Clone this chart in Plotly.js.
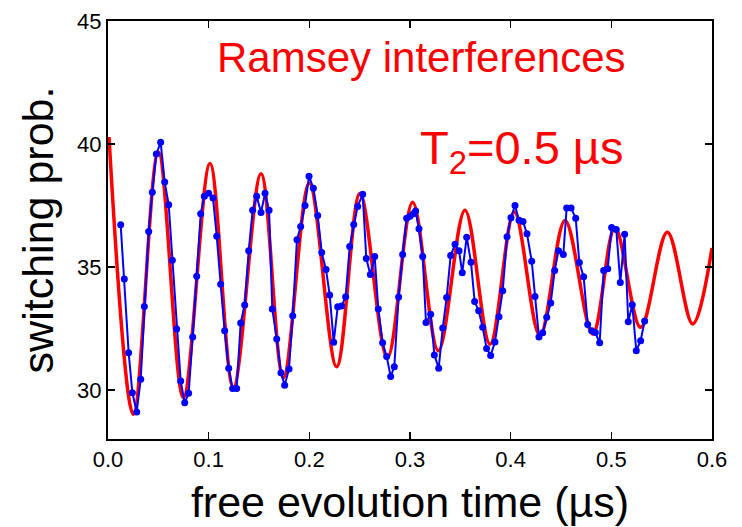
<!DOCTYPE html>
<html>
<head>
<meta charset="utf-8">
<script src="https://cdn.plot.ly/plotly-3.0.1.min.js"></script>
<style>html,body{margin:0;padding:0;background:#fff;}#chart{width:742px;height:527px;}</style>
</head>
<body>
<div id="chart"></div>
<script>
// Measured data (blue points)
const dataX = [0.0126,0.0162,0.0205,0.0242,0.0285,0.0325,0.0361,0.0404,0.0440,0.0480,0.0523,0.0563,0.0603,0.0639,0.0682,0.0722,0.0762,0.0801,0.0841,0.0881,0.0921,0.0957,0.1000,0.1043,0.1080,0.1119,0.1159,0.1199,0.1238,0.1278,0.1318,0.1358,0.1398,0.1437,0.1477,0.1520,0.1560,0.1600,0.1632,0.1676,0.1718,0.1755,0.1798,0.1835,0.1877,0.1914,0.1957,0.1997,0.2040,0.2083,0.2123,0.2166,0.2202,0.2242,0.2282,0.2321,0.2361,0.2401,0.2441,0.2480,0.2530,0.2566,0.2606,0.2649,0.2685,0.2728,0.2768,0.2808,0.2844,0.2887,0.2927,0.2967,0.3000,0.3033,0.3056,0.3089,0.3126,0.3159,0.3205,0.3242,0.3285,0.3325,0.3364,0.3404,0.3447,0.3487,0.3519,0.3563,0.3606,0.3642,0.3682,0.3722,0.3761,0.3801,0.3844,0.3884,0.3921,0.3964,0.4003,0.4043,0.4083,0.4122,0.4162,0.4209,0.4242,0.4281,0.4318,0.4358,0.4398,0.4437,0.4475,0.4523,0.4556,0.4600,0.4646,0.4682,0.4725,0.4765,0.4805,0.4841,0.4884,0.4924,0.4964,0.5003,0.5049,0.5089,0.5132,0.5168,0.5208,0.5248,0.5291,0.5331];
const dataY = [36.71,34.51,31.51,29.88,29.10,30.43,33.39,36.44,38.04,39.59,40.07,38.45,37.53,35.27,32.47,30.36,29.47,29.86,32.15,34.62,37.16,37.87,37.99,37.80,36.25,34.29,32.40,30.88,30.05,30.05,32.72,33.45,35.66,37.30,37.87,37.21,37.99,37.30,33.29,32.07,30.69,30.19,30.85,33.01,36.10,36.64,37.50,38.69,38.20,37.09,35.58,34.89,33.86,31.93,33.38,33.41,33.79,35.83,36.72,37.46,37.95,35.34,34.69,35.42,33.29,31.91,31.36,30.54,30.94,33.78,35.50,36.98,37.06,37.16,37.27,36.55,35.42,32.74,33.07,31.42,30.88,32.51,33.75,35.46,35.92,35.66,34.76,36.21,35.19,33.59,33.22,32.54,31.68,31.40,31.94,32.97,34.03,36.23,37.00,37.50,36.90,36.85,36.35,35.23,33.80,32.15,32.32,32.95,33.53,34.85,35.66,35.50,37.39,37.39,36.98,35.18,34.60,32.66,32.40,32.33,31.91,34.85,34.92,36.60,36.52,34.36,36.33,32.77,33.46,31.59,32.00,32.80];

// Fit curve (red), read at its turning points
const fitX = [0.001,0.0252,0.0500,0.0748,0.1013,0.1245,0.1520,0.1742,0.2000,0.2271,0.2503,0.2775,0.3026,0.3281,0.3546,0.3795,0.4036,0.4291,0.4540,0.4815,0.5036,0.5291,0.5556,0.5808,0.6000];
const fitY = [40.28,29.00,39.67,29.68,39.20,30.09,38.79,30.50,38.40,30.94,37.98,31.30,37.63,31.59,37.30,31.86,37.23,32.20,36.89,32.27,36.59,32.54,36.41,32.68,35.77];

const xTicks = [0,0.1,0.2,0.3,0.4,0.5,0.6];
const xTickText = ['0.0','0.1','0.2','0.3','0.4','0.5','0.6'];
const yTicks = [30,35,40,45];
const yTickText = ['30','35','40','45'];

const FONT = 'Liberation Sans Narrow, Arial Narrow, Liberation Sans, Arial, sans-serif';

const traces = [
  {x: fitX, y: fitY, type: 'scatter', mode: 'lines',
   line: {color: 'rgb(255,0,0)', width: 3.5, shape: 'spline', smoothing: 1.0}, hoverinfo: 'skip'},
  {x: dataX, y: dataY, type: 'scatter', mode: 'lines+markers',
   line: {color: 'rgb(0,0,255)', width: 2}, marker: {color: 'rgb(0,0,255)', size: 7}}
];

const axisCommon = {
  showline: true, linecolor: '#000', linewidth: 2, mirror: 'allticks',
  ticks: 'inside', ticklen: 7, tickwidth: 1.5, tickcolor: '#000',
  showgrid: false, zeroline: false,
  tickfont: {family: FONT, size: 22, color: '#000'}
};

const layout = {
  width: 742, height: 527,
  margin: {l: 108, r: 30, t: 21, b: 88},
  paper_bgcolor: '#fff', plot_bgcolor: '#fff',
  showlegend: false,
  xaxis: Object.assign({}, axisCommon, {
    range: [0, 0.6], tickvals: xTicks, ticktext: xTickText,
    title: {text: 'free evolution time (µs)', font: {family: FONT, size: 43, color: '#000'}, standoff: 15}
  }),
  yaxis: Object.assign({}, axisCommon, {
    range: [28, 45], tickvals: yTicks, ticktext: yTickText,
    title: {text: 'switching prob.', font: {family: FONT, size: 43, color: '#000'}, standoff: 10}
  }),
  annotations: [
    {x: 0.311, y: 43.5, xref: 'x', yref: 'y', text: 'Ramsey interferences', showarrow: false,
     font: {family: FONT, size: 42, color: 'rgb(255,0,0)'}, xanchor: 'center', yanchor: 'middle'},
    {x: 0.411, y: 39.7, xref: 'x', yref: 'y', text: 'T<sub>2</sub>=0.5 µs', showarrow: false,
     font: {family: FONT, size: 47, color: 'rgb(255,0,0)'}, xanchor: 'center', yanchor: 'middle'}
  ]
};

Plotly.newPlot('chart', traces, layout, {displayModeBar: false, staticPlot: true});
</script>
</body>
</html>
